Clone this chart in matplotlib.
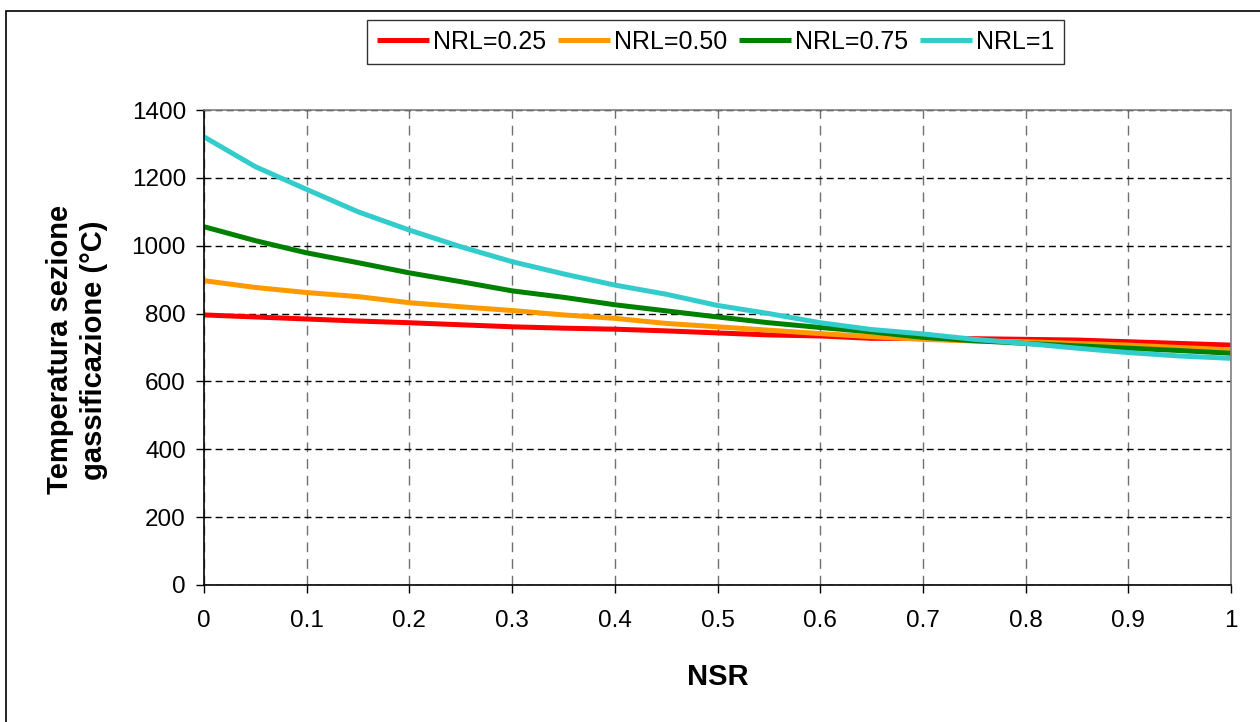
import matplotlib
matplotlib.use("Agg")
import matplotlib.pyplot as plt
from matplotlib.patches import Rectangle

plt.rcParams["font.family"] = ["Liberation Sans", "DejaVu Sans"]

# NSR values (x axis)
nsr = [0.00, 0.05, 0.10, 0.15, 0.20, 0.25, 0.30, 0.35, 0.40, 0.45, 0.50,
       0.55, 0.60, 0.65, 0.70, 0.75, 0.80, 0.85, 0.90, 0.95, 1.00]

# gasification section temperature (degC) for each NRL
t_nrl_025 = [796, 790, 784, 778, 773, 767, 761, 757, 754, 749, 743,
             737, 734, 727, 727, 726, 724, 722, 717, 712, 707]
t_nrl_050 = [897, 877, 862, 850, 832, 820, 809, 796, 786, 771, 761,
             751, 741, 732, 724, 719, 717, 712, 707, 700, 693]
t_nrl_075 = [1056, 1015, 979, 950, 920, 894, 867, 848, 826, 808, 790,
             773, 759, 746, 730, 720, 712, 705, 698, 691, 683]
t_nrl_100 = [1321, 1233, 1166, 1100, 1046, 997, 953, 917, 884, 857, 824,
             800, 773, 753, 740, 724, 712, 698, 685, 675, 668]

series = [
    ("NRL=0.25", t_nrl_025, "#FF0000"),
    ("NRL=0.50", t_nrl_050, "#FF9900"),
    ("NRL=0.75", t_nrl_075, "#008000"),
    ("NRL=1", t_nrl_100, "#33CCCC"),
]

fig = plt.figure(figsize=(12.6, 7.22), dpi=100)
ax = fig.add_axes([0.1619, 0.1898, 0.8151, 0.6578])

for label, vals, color in series:
    ax.plot(nsr, vals, color=color, linewidth=3.6, label=label,
            solid_joinstyle="round", solid_capstyle="butt")

ax.set_xlim(0, 1)
ax.set_ylim(0, 1400)
ax.set_xticks([i / 10 for i in range(11)])
ax.set_xticklabels(["0", "0.1", "0.2", "0.3", "0.4", "0.5", "0.6", "0.7", "0.8", "0.9", "1"])
ax.set_yticks(range(0, 1401, 200))

ax.grid(True, axis="y", color="black", linestyle=(0, (5, 3)), linewidth=1)
ax.grid(True, axis="x", color="#707070", linestyle=(0, (7, 5)), linewidth=1)
ax.set_axisbelow(True)

ax.tick_params(direction="out", length=6, width=1, labelsize=17.5)
ax.tick_params(axis="x", pad=12)
ax.tick_params(axis="y", pad=7)
for side in ("left", "bottom"):
    ax.spines[side].set_color("black")
    ax.spines[side].set_linewidth(1.2)
for side in ("top", "right"):
    ax.spines[side].set_color("#808080")
    ax.spines[side].set_linewidth(1.2)

ax.set_xlabel("NSR", fontsize=21, fontweight="bold")
ax.set_ylabel("Temperatura sezione\ngassificazione (°C)", fontsize=21,
              fontweight="bold", linespacing=1.3)
ax.xaxis.set_label_coords(0.5, -0.164)
ax.yaxis.set_label_coords(-0.093, 0.495)

leg = fig.legend(loc="center", bbox_to_anchor=(0.568, 0.9425), ncol=4,
                 fontsize=18, frameon=True, fancybox=False, handlelength=2.1,
                 handletextpad=0.16, columnspacing=0.45, borderpad=0.4,
                 borderaxespad=0)
leg.get_frame().set_edgecolor("black")
leg.get_frame().set_linewidth(1)
for line in leg.get_lines():
    line.set_linewidth(3.6)

# outer chart border
fig.patches.append(Rectangle((0.0048, -0.01), 1.0, 0.9948, transform=fig.transFigure,
                             fill=False, edgecolor="black", linewidth=1.2))

fig.savefig("out.png", dpi=100)
